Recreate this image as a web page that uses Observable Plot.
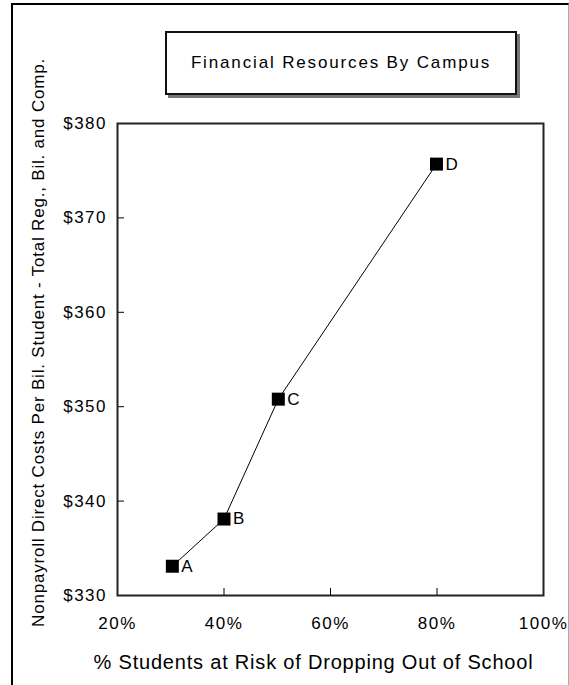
<!DOCTYPE html>
<html>
<head>
<meta charset="utf-8">
<script src="https://cdn.jsdelivr.net/npm/d3@7"></script>
<script src="https://cdn.jsdelivr.net/npm/@observablehq/plot@0.6"></script>
<style>
  html, body { margin: 0; padding: 0; background: #fff; }
  #wrap { position: relative; width: 569px; height: 685px; overflow: hidden; }
  #chart { position: absolute; left: 0; top: 0; }
  #chart svg text { font-family: "Liberation Sans", Arial, sans-serif; fill: #000; }
  g[aria-label="x-axis tick label"] text, g[aria-label="y-axis tick label"] text { letter-spacing: 1.5px; }
  g[aria-description="xtitle"] text { letter-spacing: 0.8px; }
  g[aria-description="ytitle"] text { letter-spacing: 0.8px; }
  #outer { position: absolute; left: 11px; top: 3px; width: 555px; height: 700px;
           border-left: 2px solid #000; border-top: 2px solid #000; border-right: 1px solid #aaa; pointer-events: none; }
  #title { position: absolute; left: 165px; top: 31px; width: 352px; height: 64px; box-sizing: border-box;
           border: 2px solid #111; box-shadow: 3px 3px 0 #777; background: #fff;
           display: flex; align-items: center; justify-content: center;
           font-family: "Liberation Sans", Arial, sans-serif; font-size: 17px; letter-spacing: 1.85px; color: #000; }
</style>
</head>
<body>
<div id="wrap">
  <div id="chart"></div>
  <div id="outer"></div>
  <div id="title">Financial Resources By Campus</div>
</div>
<script>
const campuses = ["A", "B", "C", "D"];
const riskPct = [30.3, 40.0, 50.2, 79.9];
const costs = [333.1, 338.1, 350.8, 375.7];
const xTicks = [20, 40, 60, 80, 100];
const yTicks = [330, 340, 350, 360, 370, 380];
const xTitle = "% Students at Risk of Dropping Out of School";
const yTitle = "Nonpayroll Direct Costs Per Bil. Student - Total Reg., Bil. and Comp.";

const data = campuses.map((c, i) => ({campus: c, x: riskPct[i], y: costs[i]}));

const chart = Plot.plot({
  width: 569,
  height: 685,
  marginLeft: 117,
  marginRight: 26,
  marginTop: 123,
  marginBottom: 90,
  x: {domain: [20, 100]},
  y: {domain: [330, 380]},
  style: {background: "transparent"},
  marks: [
    Plot.axisX(xTicks, {tickSize: -7, tickPadding: 28, tickFormat: d => d + "%", fontSize: 17, label: null, stroke: "#000"}),
    Plot.axisY(yTicks, {tickSize: -7, tickPadding: 17.5, tickFormat: d => "$" + d, fontSize: 17, label: null, stroke: "#000"}),
    Plot.frame({stroke: "#222", strokeWidth: 2}),
    Plot.line(data, {x: "x", y: "y", stroke: "#000", strokeWidth: 1}),
    Plot.dot(data, {x: "x", y: "y", symbol: "square", r: 7.33, fill: "#000", stroke: "none"}),
    Plot.text(data, {x: "x", y: "y", text: "campus", textAnchor: "start", dx: 9, fontSize: 17}),
    Plot.text([xTitle], {text: d => d, frameAnchor: "bottom", textAnchor: "middle", lineAnchor: "middle", dx: -17, dy: 67, fontSize: 20, ariaDescription: "xtitle"}),
    Plot.text([yTitle], {text: d => d, frameAnchor: "left", textAnchor: "middle", lineAnchor: "middle", rotate: -90, dx: -79, dy: -17, fontSize: 17, ariaDescription: "ytitle"})
  ]
});
document.getElementById("chart").appendChild(chart);
</script>
</body>
</html>
